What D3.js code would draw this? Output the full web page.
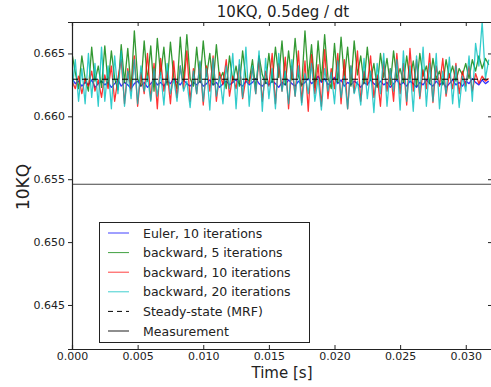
<!DOCTYPE html>
<html>
<head>
<meta charset="utf-8">
<script src="https://cdn.jsdelivr.net/npm/d3@7"></script>
<style>
body { margin: 0; background: #fff; }
text { font-family: "DejaVu Sans", sans-serif; fill: #222; }
</style>
</head>
<body>
<svg id="chart" width="491" height="387"></svg>
<script>
// sampling step of the simulation
var dt = 0.00025;

// series values
var euler10 = [
	0.6630, 0.6626, 0.6628, 0.6624, 0.6627, 0.6625, 0.6629, 0.6623, 0.6626, 0.6628,
	0.6625, 0.6627, 0.6623, 0.6626, 0.6629, 0.6624, 0.6627, 0.6625, 0.6622, 0.6626,
	0.6628, 0.6624, 0.6627, 0.6623, 0.6626, 0.6629, 0.6625, 0.6627, 0.6624, 0.6628,
	0.6626, 0.6630, 0.6627, 0.6625, 0.6629, 0.6626, 0.6624, 0.6627, 0.6625, 0.6628,
	0.6624, 0.6626, 0.6629, 0.6625, 0.6627, 0.6623, 0.6626, 0.6628, 0.6625, 0.6627,
	0.6629, 0.6626, 0.6624, 0.6628, 0.6625, 0.6627, 0.6630, 0.6626, 0.6624, 0.6627,
	0.6625, 0.6628, 0.6626, 0.6623, 0.6627, 0.6625, 0.6629, 0.6626, 0.6624, 0.6628,
	0.6625, 0.6627, 0.6630, 0.6626, 0.6628, 0.6632, 0.6627, 0.6630, 0.6625, 0.6628,
	0.6631, 0.6626, 0.6629, 0.6624, 0.6627, 0.6625, 0.6628, 0.6626, 0.6623, 0.6627,
	0.6625, 0.6629, 0.6626, 0.6624, 0.6628, 0.6625, 0.6627, 0.6623, 0.6626, 0.6629,
	0.6625, 0.6627, 0.6624, 0.6628, 0.6626, 0.6623, 0.6627, 0.6625, 0.6629, 0.6626,
	0.6624, 0.6628, 0.6625, 0.6627, 0.6623, 0.6626, 0.6629, 0.6625, 0.6627, 0.6624,
	0.6628, 0.6626, 0.6630, 0.6627, 0.6625, 0.6629, 0.6626, 0.6628
];
var backward5 = [
	0.6650, 0.6635, 0.6622, 0.6648, 0.6630, 0.6620, 0.6655, 0.6628, 0.6640, 0.6623,
	0.6656, 0.6625, 0.6652, 0.6630, 0.6621, 0.6657, 0.6627, 0.6654, 0.6622, 0.6668,
	0.6630, 0.6624, 0.6660, 0.6628, 0.6656, 0.6620, 0.6662, 0.6633, 0.6655, 0.6625,
	0.6659, 0.6631, 0.6622, 0.6663, 0.6628, 0.6665, 0.6630, 0.6624, 0.6655, 0.6627,
	0.6660, 0.6632, 0.6650, 0.6625, 0.6657, 0.6629, 0.6635, 0.6622, 0.6648, 0.6628,
	0.6640, 0.6624, 0.6652, 0.6630, 0.6628, 0.6645, 0.6622, 0.6648, 0.6633, 0.6626,
	0.6650, 0.6627, 0.6655, 0.6631, 0.6660, 0.6625, 0.6652, 0.6629, 0.6662, 0.6632,
	0.6624, 0.6668, 0.6630, 0.6657, 0.6623, 0.6660, 0.6628, 0.6665, 0.6631, 0.6622,
	0.6658, 0.6627, 0.6663, 0.6630, 0.6655, 0.6624, 0.6660, 0.6633, 0.6648, 0.6626,
	0.6655, 0.6629, 0.6642, 0.6623, 0.6650, 0.6631, 0.6646, 0.6625, 0.6652, 0.6630,
	0.6638, 0.6627, 0.6648, 0.6629, 0.6644, 0.6624, 0.6650, 0.6632, 0.6640, 0.6626,
	0.6646, 0.6630, 0.6636, 0.6625, 0.6645, 0.6631, 0.6640, 0.6628, 0.6638, 0.6633,
	0.6642, 0.6630, 0.6645, 0.6636, 0.6648, 0.6638, 0.6646, 0.6641
];
var backward10 = [
	0.6628, 0.6622, 0.6632, 0.6618, 0.6630, 0.6624, 0.6636, 0.6620, 0.6629, 0.6615,
	0.6633, 0.6622, 0.6640, 0.6612, 0.6630, 0.6645, 0.6610, 0.6638, 0.6620, 0.6648,
	0.6608, 0.6635, 0.6618, 0.6650, 0.6613, 0.6642, 0.6606, 0.6646, 0.6620, 0.6636,
	0.6610, 0.6644, 0.6615, 0.6640, 0.6622, 0.6652, 0.6612, 0.6638, 0.6618, 0.6643,
	0.6609, 0.6640, 0.6620, 0.6648, 0.6612, 0.6635, 0.6625, 0.6645, 0.6616, 0.6632,
	0.6622, 0.6641, 0.6614, 0.6630, 0.6626, 0.6638, 0.6618, 0.6646, 0.6612, 0.6636,
	0.6624, 0.6650, 0.6610, 0.6642, 0.6620, 0.6647, 0.6606, 0.6640, 0.6616, 0.6652,
	0.6611, 0.6644, 0.6604, 0.6649, 0.6618, 0.6641, 0.6608, 0.6653, 0.6614, 0.6638,
	0.6622, 0.6650, 0.6610, 0.6645, 0.6606, 0.6640, 0.6619, 0.6652, 0.6612, 0.6636,
	0.6625, 0.6648, 0.6615, 0.6633, 0.6608, 0.6644, 0.6620, 0.6638, 0.6612, 0.6650,
	0.6618, 0.6642, 0.6609, 0.6654, 0.6620, 0.6645, 0.6614, 0.6637, 0.6622, 0.6650,
	0.6611, 0.6640, 0.6624, 0.6646, 0.6616, 0.6634, 0.6622, 0.6642, 0.6618, 0.6636,
	0.6624, 0.6640, 0.6620, 0.6634, 0.6626, 0.6632, 0.6628, 0.6630
];
var backward20 = [
	0.6620, 0.6645, 0.6612, 0.6638, 0.6610, 0.6650, 0.6615, 0.6642, 0.6608, 0.6655,
	0.6612, 0.6640, 0.6606, 0.6648, 0.6618, 0.6652, 0.6608, 0.6636, 0.6614, 0.6645,
	0.6610, 0.6640, 0.6620, 0.6632, 0.6612, 0.6638, 0.6616, 0.6635, 0.6609, 0.6642,
	0.6618, 0.6630, 0.6612, 0.6640, 0.6620, 0.6628, 0.6607, 0.6636, 0.6618, 0.6644,
	0.6612, 0.6638, 0.6605, 0.6646, 0.6616, 0.6632, 0.6610, 0.6640, 0.6622, 0.6650,
	0.6606, 0.6645, 0.6615, 0.6655, 0.6608, 0.6640, 0.6618, 0.6652, 0.6604, 0.6646,
	0.6614, 0.6638, 0.6606, 0.6650, 0.6620, 0.6636, 0.6610, 0.6645, 0.6616, 0.6640,
	0.6609, 0.6634, 0.6618, 0.6642, 0.6612, 0.6630, 0.6605, 0.6638, 0.6620, 0.6635,
	0.6610, 0.6644, 0.6615, 0.6632, 0.6606, 0.6640, 0.6618, 0.6628, 0.6609, 0.6646,
	0.6614, 0.6636, 0.6603, 0.6642, 0.6618, 0.6650, 0.6608, 0.6638, 0.6620, 0.6645,
	0.6605, 0.6652, 0.6612, 0.6640, 0.6604, 0.6648, 0.6616, 0.6655, 0.6608, 0.6642,
	0.6612, 0.6650, 0.6606, 0.6636, 0.6618, 0.6647, 0.6610, 0.6640, 0.6607, 0.6632,
	0.6620, 0.6648, 0.6612, 0.6658, 0.6640, 0.6675, 0.6630, 0.6645
];
var steadyState = 0.66295;
var measurement = 0.6546;

// axes
var xDomain = [0, 0.032];
var yDomain = [0.6415, 0.6675];
var xTicks = [0.000, 0.005, 0.010, 0.015, 0.020, 0.025, 0.030];
var yTicks = [0.645, 0.650, 0.655, 0.660, 0.665];

var seriesNames = ["Euler, 10 iterations", "backward, 5 iterations",
		"backward, 10 iterations", "backward, 20 iterations"];
var seriesColors = ["#0000ff", "#008000", "#ff0000", "#00bfbf"];
var seriesData = [euler10, backward5, backward10, backward20];

// plot area
var margin = { left: 72, top: 22, right: 492, bottom: 349 };

var svg = d3.select("svg#chart");

var x = d3.scaleLinear().domain(xDomain).range([margin.left, margin.right]);
var y = d3.scaleLinear().domain(yDomain).range([margin.bottom, margin.top]);

svg.append("clipPath").attr("id", "plotclip").append("rect")
		.attr("x", margin.left).attr("y", margin.top)
		.attr("width", margin.right - margin.left)
		.attr("height", margin.bottom - margin.top);

var plot = svg.append("g").attr("clip-path", "url(#plotclip)");

var line = d3.line().x(function(d, i) {
	return x(i * dt);
}).y(function(d) {
	return y(d);
});

// draw the four simulated series
seriesData.forEach(function(values, k) {
	plot.append("path").datum(values).attr("d", line)
			.attr("fill", "none").attr("stroke", seriesColors[k])
			.attr("stroke-width", 1.3).attr("stroke-opacity", 0.8)
			.attr("stroke-linejoin", "round");
});

// steady-state and measurement levels
plot.append("line").attr("x1", x(xDomain[0])).attr("x2", x(xDomain[1]))
		.attr("y1", y(steadyState)).attr("y2", y(steadyState))
		.attr("stroke", "#000").attr("stroke-width", 1)
		.attr("stroke-dasharray", "6,4");
plot.append("line").attr("x1", x(xDomain[0])).attr("x2", x(xDomain[1]))
		.attr("y1", y(measurement)).attr("y2", y(measurement))
		.attr("stroke", "#444").attr("stroke-width", 1.2);

// axes with matplotlib-like ticks
var fmt = d3.format(".3f");
var axisLeft = svg.append("g").attr("transform", "translate(" + margin.left + ",0)")
		.call(d3.axisLeft(y).tickValues(yTicks).tickFormat(fmt).tickSize(4).tickPadding(3));
var axisBottom = svg.append("g").attr("transform", "translate(0," + margin.bottom + ")")
		.call(d3.axisBottom(x).tickValues(xTicks).tickFormat(fmt).tickSize(-4).tickPadding(3));
var axisTop = svg.append("g").attr("transform", "translate(0," + margin.top + ")")
		.call(d3.axisTop(x).tickValues(xTicks).tickFormat("").tickSize(-4));
var axisRight = svg.append("g").attr("transform", "translate(" + margin.right + ",0)")
		.call(d3.axisRight(y).tickValues(yTicks).tickFormat("").tickSize(-4));

[axisLeft, axisBottom, axisTop, axisRight].forEach(function(a) {
	a.select(".domain").attr("stroke", "#222").attr("stroke-width", 1.2);
	a.selectAll(".tick line").attr("stroke", "#222");
	a.selectAll(".tick text").style("font-size", "11px")
			.style("font-family", "DejaVu Sans").attr("fill", "#222");
});

// title and axis labels
svg.append("text").attr("x", 283).attr("y", 17).attr("text-anchor", "middle")
		.style("font-size", "15px").text("10KQ, 0.5deg / dt");
svg.append("text").attr("x", 282).attr("y", 378).attr("text-anchor", "middle")
		.style("font-size", "15px").text("Time [s]");
svg.append("text").attr("transform", "translate(29,187) rotate(-90)")
		.attr("text-anchor", "middle").style("font-size", "17px").text("10KQ");

// legend
var legendNames = seriesNames.concat(["Steady-state (MRF)", "Measurement"]);
var legendColors = seriesColors.concat(["#000", "#444"]);
var legend = svg.append("g");
legend.append("rect").attr("x", 99.5).attr("y", 222.5).attr("width", 210)
		.attr("height", 120).attr("fill", "#fff").attr("stroke", "#222")
		.attr("stroke-width", 1);

var rowY = d3.scaleLinear().domain([0, 5]).range([233, 331]);
legendNames.forEach(function(name, k) {
	var ly = rowY(k);
	legend.append("line").attr("x1", 108).attr("x2", 129).attr("y1", ly)
			.attr("y2", ly).attr("stroke", legendColors[k])
			.attr("stroke-width", k == 5 ? 1.2 : 1)
			.attr("stroke-opacity", k < 4 ? 0.75 : 1)
			.attr("stroke-dasharray", k == 4 ? "5,4" : null);
	legend.append("text").attr("x", 143).attr("y", ly + 4.5)
			.style("font-size", "12.5px").text(name);
});
</script>
</body>
</html>
